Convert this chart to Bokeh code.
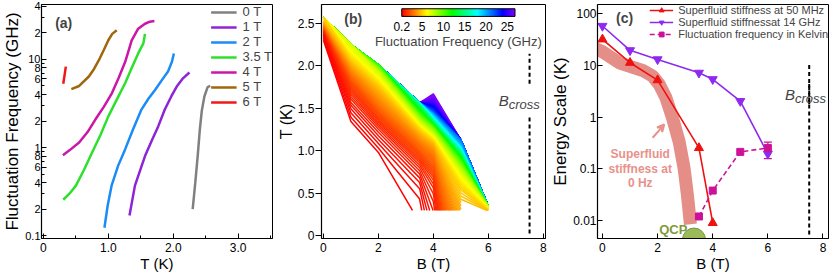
import colorsys
import numpy as np
from bokeh.core.properties import value
from bokeh.embed import file_html
from bokeh.layouts import row
from bokeh.models import (Arrow, ColumnDataSource, FixedTicker, Label, Legend, LegendItem,
                          LinearColorMapper, Range1d, TeeHead, VeeHead, Whisker)
from bokeh.plotting import figure
from bokeh.resources import INLINE

FONT = "Liberation Sans"

# ---------------- Panel (a): fluctuation frequency (GHz) vs T (K) ----------------
field_labels = ["0 T", "1 T", "2 T", "3.5 T", "4 T", "5 T", "6 T"]
field_B = [0.0, 1.0, 2.0, 3.5, 4.0, 5.0, 6.0]
field_colors = ["#808080", "#8E24D8", "#1C8CF5", "#2EE02E", "#CC16A5", "#A0660C", "#F01818"]

T_0T = [2.30, 2.34, 2.38, 2.41, 2.44, 2.48, 2.53, 2.57]
f_0T = [0.20, 0.40, 0.85, 1.6, 2.6, 3.8, 4.85, 5.0]
T_1T = [1.326, 1.41, 1.49, 1.565, 1.67, 1.77, 1.87, 1.97, 2.06, 2.15, 2.25]
f_1T = [0.17, 0.37, 0.55, 0.80, 1.2, 1.75, 2.7, 3.8, 5.0, 6.1, 7.1]
T_2T = [0.94, 0.99, 1.05, 1.15, 1.26, 1.38, 1.51, 1.62, 1.72, 1.83, 1.92, 1.98, 2.01]
f_2T = [0.123, 0.22, 0.37, 0.62, 0.96, 1.6, 2.7, 3.6, 4.5, 5.9, 7.3, 9.4, 11.7]
T_35T = [0.305, 0.40, 0.50, 0.62, 0.75, 0.88, 1.00, 1.13, 1.26, 1.37, 1.46, 1.54, 1.565]
f_35T = [0.256, 0.30, 0.37, 0.55, 0.88, 1.4, 2.26, 3.5, 5.4, 8.3, 11.7, 15.2, 19.5]
T_4T = [0.30, 0.40, 0.55, 0.68, 0.80, 0.93, 1.056, 1.16, 1.26, 1.36, 1.46, 1.565, 1.64, 1.71]
f_4T = [0.82, 0.93, 1.14, 1.5, 2.08, 2.9, 4.15, 6.2, 9.4, 16.5, 22.3, 25.4, 26.8, 27.3]
T_5T = [0.43, 0.55, 0.70, 0.78, 0.854, 0.93, 1.00, 1.06, 1.13]
f_5T = [4.6, 5.0, 6.4, 7.8, 9.8, 12.8, 16.5, 19.5, 21.4]
T_6T = [0.305, 0.325, 0.345]
f_6T = [5.3, 6.6, 8.3]

curves_T = [T_0T, T_1T, T_2T, T_35T, T_4T, T_5T, T_6T]
curves_f = [f_0T, f_1T, f_2T, f_35T, f_4T, f_5T, f_6T]

a_xticks = [0, 1, 2, 3]
a_xtick_labels = ["0", "1.0", "2.0", "3.0"]
a_xminor = [0.5, 1.5, 2.5, 3.5]
a_yticks = [0.1, 0.2, 0.4, 0.6, 0.8, 1, 2, 4, 6, 8, 10, 20, 40]
a_ytick_labels = ["0.1", "2", "4", "6", "8", "1", "2", "4", "6", "8", "10", "2", "4"]
a_yminor = [0.3, 0.5, 0.7, 0.9, 3, 5, 7, 9, 30]

# ---------------- Panel (b): contour levels ----------------
freq_levels = np.linspace(0.2, 27.0, 220)   # contour levels in GHz
T_floor = 0.3                               # lowest measured temperature (K)
cbar_low, cbar_high = 0.2, 26.8
cbar_ticks = [0.2, 5, 10, 15, 20, 25]
cbar_tick_labels = ["0.2", "5", "10", "15", "20", "25"]
b_xticks = [0, 2, 4, 6, 8]
b_yticks = [0, 0.5, 1.0, 1.5, 2.0, 2.5]
b_ytick_labels = ["0", "0.5", "1.0", "1.5", "2.0", "2.5"]
B_CROSS = 7.5
bcross_b_lo = [0.03, 1.79]
bcross_b_hi = [1.41, 2.14]

# ---------------- Panel (c): energy scales (K) vs B (T) ----------------
B_50 = [0, 1, 2, 3.5, 4]
E_50 = [32, 11.3, 5.2, 0.254, 0.009]
B_14 = [0, 1, 2, 3.5, 4, 5, 6]
E_14 = [58, 19.6, 13.1, 7.2, 5.4, 2.04, 0.195]
B_fk = [3.5, 4, 5, 6]
E_fk = [0.012, 0.038, 0.213, 0.254]
E_fk_lo = [0.012, 0.038, 0.213, 0.158]
E_fk_hi = [0.012, 0.038, 0.213, 0.33]
B_0Hz = [-0.3, -0.04, 0.63, 1.46, 1.82, 2.06, 2.30, 2.54, 2.78, 2.96, 3.08, 3.19]
E_0Hz = [22, 19.0, 11.1, 8.0, 6.2, 4.3, 2.4, 0.97, 0.34, 0.104, 0.032, 0.0085]
qcp_B = 3.32
qcp_E = 0.0043
c_xticks = [0, 2, 4, 6, 8]
c_yticks = [0.01, 0.1, 1, 10, 100]
c_ytick_labels = ["0.01", "0.1", "1", "10", "100"]
bcross_c_lo = [0.0054, 1.79]
bcross_c_hi = [4.4, 11.1]

RED = "#F01010"
PURPLE = "#8E2AF0"
MAGENTA = "#CC1199"
SALMON = "#E07A72"
OLIVE = "#9BBB59"

# rainbow palette red -> yellow -> green -> cyan -> blue -> violet
rainbow = []
for i in range(256):
    r, g, b = colorsys.hsv_to_rgb((270.0 * i / 255.0) / 360.0, 1.0, 1.0)
    rainbow.append("#%02x%02x%02x" % (int(r * 255 + 0.5), int(g * 255 + 0.5), int(b * 255 + 0.5)))

H = 276
TOP = 4
BOTTOM = 38


def style_axis(ax):
    ax.axis_line_color = "black"
    ax.axis_line_width = 1.2
    ax.major_tick_line_color = "black"
    ax.minor_tick_line_color = "black"
    ax.major_tick_in = 5
    ax.major_tick_out = 0
    ax.minor_tick_in = 3
    ax.minor_tick_out = 0
    ax.major_label_text_font = FONT
    ax.major_label_text_font_size = "12px"
    ax.major_label_text_color = "black"
    ax.major_label_standoff = 1
    ax.axis_label_text_font = FONT
    ax.axis_label_text_font_size = "17px"
    ax.axis_label_text_font_style = "normal"
    ax.axis_label_text_color = "black"
    ax.axis_label_standoff = 0


def make_fig(width, xr, yr, ytype, left, right):
    p = figure(width=width, height=H, x_range=Range1d(*xr), y_range=Range1d(*yr),
               y_axis_type=ytype, output_backend="svg", toolbar_location=None,
               min_border_left=left, min_border_right=right,
               min_border_top=TOP, min_border_bottom=BOTTOM)
    p.grid.visible = False
    p.outline_line_color = "black"
    p.outline_line_width = 1
    for ax in p.axis:
        style_axis(ax)
    p.xaxis.major_label_standoff = 4
    p.xaxis.axis_label_text_font_size = "15px"
    return p


# ======================= (a) =======================
pa = make_fig(274, (-0.03, 3.53), (0.093, 42), "log", 40, 2)
pa.xaxis.axis_label = "T (K)"
pa.yaxis.axis_label = "Fluctuation Frequency (GHz)"
pa.xaxis.ticker = FixedTicker(ticks=a_xticks, minor_ticks=a_xminor)
pa.xaxis.major_label_overrides = dict(zip(a_xticks, a_xtick_labels))
pa.yaxis.ticker = FixedTicker(ticks=a_yticks, minor_ticks=a_yminor)
pa.yaxis.major_label_overrides = dict(zip(a_yticks, a_ytick_labels))
pa.yaxis.major_label_text_font_size = "11px"

items = []
for lab, col, T, f in zip(field_labels, field_colors, curves_T, curves_f):
    r = pa.line(T, f, line_color=col, line_width=2.5)
    items.append(LegendItem(label=lab, renderers=[r]))
leg_a = Legend(items=items, location="top_right", label_text_font=FONT,
               label_text_font_size="13px", glyph_width=26, glyph_height=14, label_height=14,
               spacing=0, padding=1, margin=0, label_standoff=6, border_line_color=None,
               background_fill_alpha=0)
pa.add_layout(leg_a)
pa.add_layout(Label(x=0.18, y=26, text="(a)", text_font=FONT, text_font_size="14px",
                    text_font_style="bold", text_baseline="middle"))

# ======================= (b) =======================
pb = make_fig(274, (-0.07, 8.08), (-0.03, 2.72), "linear", 45, 3)
pb.xaxis.axis_label = "B (T)"
pb.yaxis.axis_label = "T (K)"
pb.yaxis.axis_label_text_font_size = "16px"
pb.xaxis.ticker = FixedTicker(ticks=b_xticks, minor_ticks=[])
pb.yaxis.ticker = FixedTicker(ticks=b_yticks, minor_ticks=[])
pb.yaxis.major_label_overrides = dict(zip(b_yticks, b_ytick_labels))
pb.yaxis.major_tick_in = 0
pb.yaxis.major_tick_out = 6


def T_of_f(cT, cf, f):
    """Temperature at which a field's curve reaches frequency f (clamped above the
    measured range, extrapolated along the first segment below it)."""
    lfc = np.log(cf)
    lf = np.log(f)
    if f < cf[0]:
        slope = (cT[1] - cT[0]) / (lfc[1] - lfc[0])
        return cT[0] + slope * (lf - lfc[0]), True
    return float(np.interp(lf, lfc, cT)), False


mapper = LinearColorMapper(palette=rainbow, low=cbar_low, high=cbar_high)
xs, ys, fl = [], [], []
for f in freq_levels[::-1]:
    vals = [T_of_f(cT, cf, f) for cT, cf in zip(curves_T, curves_f)]
    run_x, run_y = [], []
    for i, (T, below) in enumerate(vals):
        if not below:
            if not run_x and i > 0:
                Tp = vals[i - 1][0]
                if Tp < T_floor:
                    frac = (T - T_floor) / (T - Tp)
                    run_x.append(field_B[i] - frac * (field_B[i] - field_B[i - 1]))
                    run_y.append(T_floor)
                else:
                    run_x.append(field_B[i - 1]); run_y.append(Tp)
            run_x.append(field_B[i]); run_y.append(T)
        else:
            if run_x:
                Tprev = run_y[-1]
                if T < T_floor:
                    frac = (Tprev - T_floor) / (Tprev - T)
                    run_x.append(field_B[i - 1] + frac * (field_B[i] - field_B[i - 1]))
                    run_y.append(T_floor)
                else:
                    run_x.append(field_B[i]); run_y.append(T)
                if len(run_x) > 1:
                    xs.append(run_x); ys.append(run_y); fl.append(float(f))
            run_x, run_y = [], []
    if len(run_x) > 1:
        xs.append(run_x); ys.append(run_y); fl.append(float(f))
src_b = ColumnDataSource(dict(xs=xs, ys=ys, f=fl))
pb.multi_line("xs", "ys", source=src_b, line_width=1.5, line_join="round",
              line_color={"field": "f", "transform": mapper})

pb.segment(x0=[B_CROSS] * 2, y0=bcross_b_lo, x1=[B_CROSS] * 2, y1=bcross_b_hi,
           line_color="black", line_width=2, line_dash="4 3")
pb.add_layout(Label(x=6.38, y=1.59, text="B", text_font=FONT, text_font_size="15px",
                    text_font_style="italic", text_baseline="middle"))
pb.add_layout(Label(x=6.38, y=1.59, x_offset=10, y_offset=-4, text="cross", text_font=FONT,
                    text_font_size="13px", text_font_style="italic", text_baseline="middle"))
pb.add_layout(Label(x=0.76, y=2.55, text="(b)", text_font=FONT, text_font_size="14px",
                    text_font_style="bold", text_baseline="middle"))

# colour scale (upper right of panel b)
cb_x0, cb_x1 = 2.85, 6.97
cb_y0, cb_y1 = 2.58, 2.67
cb_label_y = 2.46
grad = np.linspace(cbar_low, cbar_high, 256).reshape(1, -1)
pb.image(image=[grad], x=cb_x0, y=cb_y0, dw=cb_x1 - cb_x0, dh=cb_y1 - cb_y0, color_mapper=mapper)
pb.quad(left=[cb_x0], right=[cb_x1], bottom=[cb_y0], top=[cb_y1], fill_color=None,
        line_color="black", line_width=1)
tick_x = [cb_x0 + (v - cbar_low) / (cbar_high - cbar_low) * (cb_x1 - cb_x0) for v in cbar_ticks]
pb.text(x=tick_x, y=[cb_label_y] * len(tick_x), text=cbar_tick_labels,
        text_font=value(FONT), text_font_size=value("12px"), text_align="center",
        text_baseline="middle", text_color="black")
pb.add_layout(Label(x=(cb_x0 + cb_x1) / 2, y=2.29, text="Fluctuation Frequency (GHz)",
                    text_font=FONT, text_font_size="13px", text_align="center",
                    text_baseline="middle"))

# ======================= (c) =======================
pc = make_fig(282, (-0.18, 8.2), (0.0045, 151), "log", 46, 2)
pc.xaxis.axis_label = "B (T)"
pc.yaxis.axis_label = "Energy Scale (K)"
pc.xaxis.ticker = FixedTicker(ticks=c_xticks, minor_ticks=[])
pc.yaxis.ticker = FixedTicker(ticks=c_yticks, minor_ticks=[])
pc.yaxis.major_label_overrides = dict(zip(c_yticks, c_ytick_labels))

pc.scatter([qcp_B], [qcp_E], marker="circle", size=23, fill_color=OLIVE, line_color="#7A9440")

pc.line(B_0Hz, E_0Hz, line_color=SALMON, line_width=13, line_alpha=0.85)

r50l = pc.line(B_50, E_50, line_color=RED, line_width=1.6)
r50s = pc.scatter(B_50, E_50, marker="triangle", size=9, fill_color=RED, line_color=RED)
r14l = pc.line(B_14, E_14, line_color=PURPLE, line_width=1.6)
r14s = pc.scatter(B_14, E_14, marker="inverted_triangle", size=9, fill_color=PURPLE,
                  line_color=PURPLE)
rfkl = pc.line(B_fk, E_fk, line_color=MAGENTA, line_width=1.6, line_dash="5 3")
rfks = pc.scatter(B_fk, E_fk, marker="square", size=7, fill_color=MAGENTA, line_color=MAGENTA)

err_idx = [i for i in range(len(B_fk)) if E_fk_hi[i] > E_fk_lo[i]]
src_err = ColumnDataSource(dict(x=[B_fk[i] for i in err_idx], lo=[E_fk_lo[i] for i in err_idx],
                                hi=[E_fk_hi[i] for i in err_idx]))
pc.add_layout(Whisker(base="x", lower="lo", upper="hi", source=src_err, line_color=MAGENTA,
                      line_width=1.2,
                      upper_head=TeeHead(size=8, line_color=MAGENTA, line_width=1.2),
                      lower_head=TeeHead(size=8, line_color=MAGENTA, line_width=1.2)))

pc.segment(x0=[B_CROSS] * 2, y0=bcross_c_lo, x1=[B_CROSS] * 2, y1=bcross_c_hi,
           line_color="black", line_width=2, line_dash="4 3")
pc.add_layout(Label(x=6.62, y=2.79, text="B", text_font=FONT, text_font_size="15px",
                    text_font_style="italic", text_baseline="middle"))
pc.add_layout(Label(x=6.62, y=2.79, x_offset=10, y_offset=-4, text="cross", text_font=FONT,
                    text_font_size="13px", text_font_style="italic", text_baseline="middle"))
pc.add_layout(Label(x=0.49, y=81, text="(c)", text_font=FONT, text_font_size="14px",
                    text_font_style="bold", text_baseline="middle"))

for txt, yv in zip(["Superfluid", "stiffness at", "0 Hz"], [0.192, 0.0995, 0.0526]):
    pc.add_layout(Label(x=1.37, y=yv, text=txt, text_font=FONT, text_font_size="12px",
                        text_font_style="bold", text_color="#E8918A", text_align="center",
                        text_baseline="middle"))
pc.add_layout(Arrow(end=VeeHead(size=7, line_color="#E8918A", line_width=2),
                    x_start=1.82, y_start=0.40, x_end=2.24, y_end=0.72,
                    line_color="#E8918A", line_width=2))
pc.add_layout(Label(x=2.57, y=0.0066, text="QCP", text_font=FONT, text_font_size="13px",
                    text_font_style="bold", text_color="#7E9A3C", text_align="center",
                    text_baseline="middle"))

leg_c = Legend(items=[
    LegendItem(label="Superfluid stiffness at 50 MHz", renderers=[r50l, r50s]),
    LegendItem(label="Superfluid stiffnessat 14 GHz", renderers=[r14l, r14s]),
    LegendItem(label="Fluctuation frequency in Kelvin", renderers=[rfkl, rfks]),
], location="top_right", label_text_font=FONT, label_text_font_size="11px",
    glyph_width=24, glyph_height=12, label_height=12, spacing=0, padding=2, margin=0,
    label_standoff=5, border_line_color=None, background_fill_alpha=0)
pc.add_layout(leg_c)

layout = row(pa, pb, pc)
open("out.html", "w").write(file_html(layout, INLINE))
